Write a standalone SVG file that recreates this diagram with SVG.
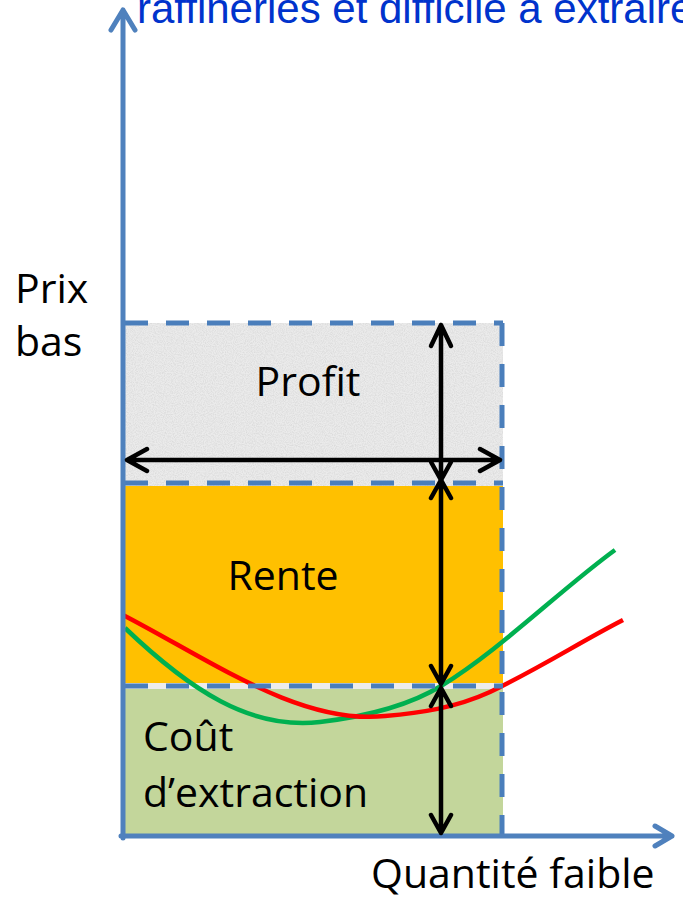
<svg xmlns="http://www.w3.org/2000/svg" width="683" height="900" viewBox="0 0 683 900">
<defs>
<filter id="noise" x="0" y="0" width="100%" height="100%">
<feTurbulence type="fractalNoise" baseFrequency="0.9" numOctaves="2" seed="3" result="t"/>
<feColorMatrix in="t" type="matrix" values="0 0 0 0 0.55  0 0 0 0 0.55  0 0 0 0 0.55  0 0 0 -1.6 1.05"/>
</filter>
<style>
.dash{stroke:#4a7ebb;stroke-width:5;stroke-dasharray:23 18;fill:none}
.axis{stroke:#4f81bd;stroke-width:5;fill:none;stroke-linecap:round;stroke-linejoin:round}
.arr{stroke:#000;stroke-width:4.5;fill:none;stroke-linecap:round;stroke-linejoin:round}
.lbl{font-family:"Open Sans",Lato,sans-serif;font-size:41px;fill:#000}
</style>
</defs>
<text x="137" y="23" font-family="Liberation Sans, Arial, sans-serif" font-size="42" fill="#0033cc">raffineries et difficile à extraire</text>
<g id="profit">
<rect x="125" y="323" width="378" height="165" fill="#ebebeb"/>
<rect x="125" y="323" width="378" height="165" filter="url(#noise)" opacity="0.5"/>
<text class="lbl" x="308" y="396" text-anchor="middle">Profit</text>
</g>
<g id="rente">
<rect x="125" y="486" width="378" height="197" fill="#ffc000"/>
<text class="lbl" x="283" y="590" text-anchor="middle">Rente</text>
</g>
<g id="cout">
<rect x="125" y="683" width="378" height="7" fill="#ececec"/>
<rect x="125" y="689" width="378" height="146" fill="#c3d69b"/>
<text class="lbl" x="143" y="751">Coût</text>
<text class="lbl" x="143" y="807">d’extraction</text>
</g>
<g id="curves">
<path d="M125,628 C190,690 250,730 320,722 C370,716 410,705 441,686 C500,650 560,590 615,550" stroke="#00b050" stroke-width="4.5" fill="none"/>
<path d="M123,615 C210,660 300,725 385,716 C420,713 455,708 490,692 C540,668 580,642 623,620" stroke="#ff0000" stroke-width="4.5" fill="none"/>
</g>
<g id="borders">
<path class="dash" d="M125,323 H503"/>
<path class="dash" d="M125,483 H503"/>
<path class="dash" d="M125,686 H503"/>
<path class="dash" d="M502,323 V835"/>
</g>
<g id="axes">
<path class="axis" d="M123,838 V10 M111,30 L123,10 L135,30"/>
<path class="axis" d="M121,836 H672 M655,826 L672,836 L655,846"/>
</g>
<g id="prix">
<text class="lbl" x="15" y="303">Prix</text>
<text class="lbl" x="15" y="356">bas</text>
</g>
<g id="quantite">
<text class="lbl" x="371" y="888">Quantité faible</text>
</g>
<g id="connectors">
<path class="arr" d="M441,325 V480 M431,346 L441,325 L451,346 M431,462 L441,480 L451,462"/>
<path class="arr" d="M441,480 V684 M431,498 L441,480 L451,498 M431,666 L441,684 L451,666"/>
<path class="arr" d="M441,688 V833 M431,706 L441,688 L451,706 M431,815 L441,833 L451,815"/>
<path class="arr" d="M127,460 H500 M147,449 L127,460 L147,471 M480,449 L500,460 L480,471"/>
</g>
</svg>
